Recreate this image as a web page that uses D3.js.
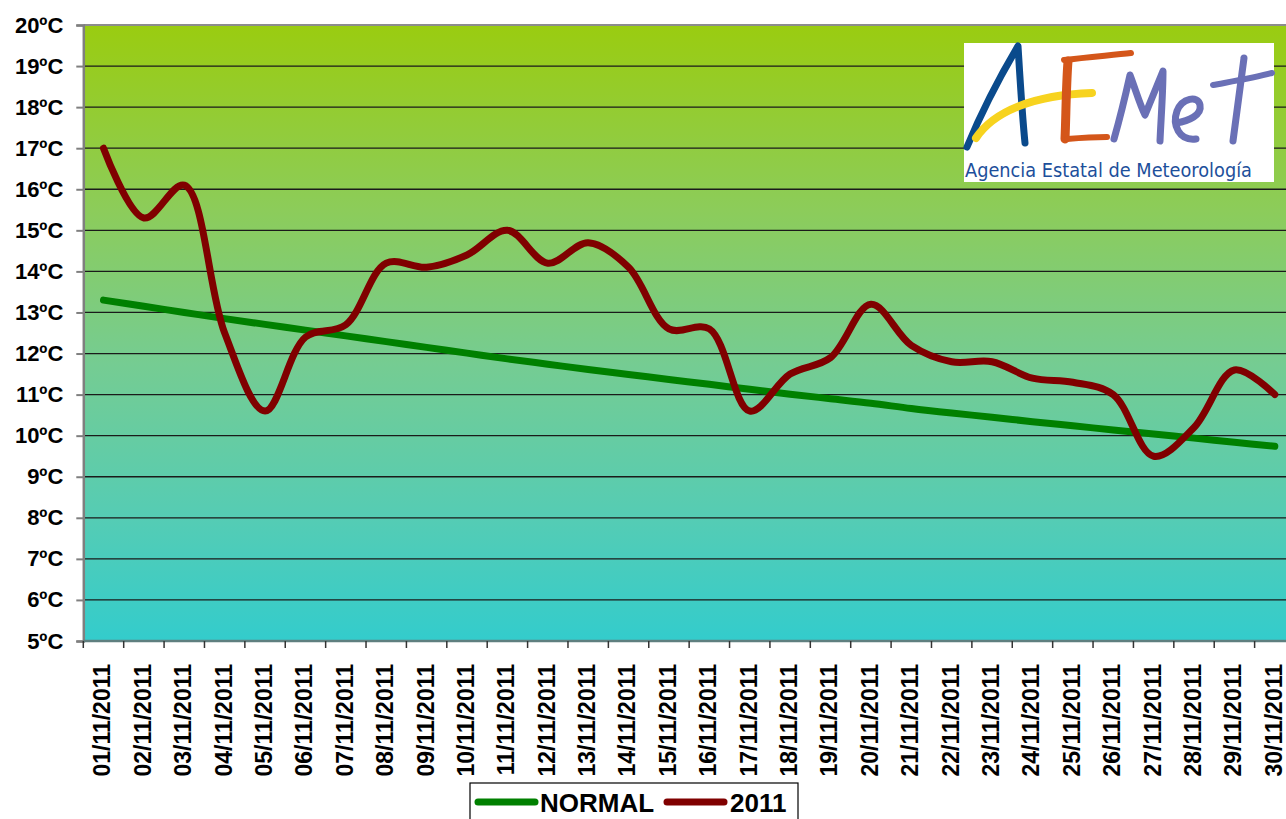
<!DOCTYPE html>
<html>
<head>
<meta charset="utf-8">
<script src="https://cdn.jsdelivr.net/npm/d3@7"></script>
<style>
  html, body { margin: 0; padding: 0; background: #ffffff; overflow: hidden; }
  #chart { width: 1286px; height: 819px; }
</style>
</head>
<body>
<div id="chart"></div>
<script>
// Days of November 2011
const dates = ["01/11/2011","02/11/2011","03/11/2011","04/11/2011","05/11/2011","06/11/2011",
  "07/11/2011","08/11/2011","09/11/2011","10/11/2011","11/11/2011","12/11/2011","13/11/2011",
  "14/11/2011","15/11/2011","16/11/2011","17/11/2011","18/11/2011","19/11/2011","20/11/2011",
  "21/11/2011","22/11/2011","23/11/2011","24/11/2011","25/11/2011","26/11/2011","27/11/2011",
  "28/11/2011","29/11/2011","30/11/2011"];

// Climatological normal temperature
const normalValues = [13.3, 13.15, 13.0, 12.85, 12.71, 12.57, 12.43, 12.29, 12.15, 12.01,
  11.87, 11.74, 11.61, 11.49, 11.37, 11.25, 11.13, 11.01, 10.9, 10.79,
  10.66, 10.55, 10.45, 10.34, 10.24, 10.14, 10.04, 9.94, 9.84, 9.74];

// Observed mean temperature, 2011
const values2011 = [17.0, 15.3, 16.1, 12.5, 10.6, 12.4, 12.7, 14.2, 14.1, 14.4,
  15.0, 14.2, 14.7, 14.1, 12.6, 12.6, 10.6, 11.5, 11.9, 13.2,
  12.2, 11.8, 11.8, 11.4, 11.3, 11.0, 9.5, 10.2, 11.6, 11.0];

// Y axis ticks
const yTicks = [5, 6, 7, 8, 9, 10, 11, 12, 13, 14, 15, 16, 17, 18, 19, 20];

const seriesNames = ["NORMAL", "2011"];
const seriesColors = ["#008000", "#800000"];

const width = 1286;
const height = 819;
const plotLeft = 83.3, plotTop = 25, plotBottom = 641;
const step = 40.39;

const svg = d3.select("#chart")
  .append("svg")
  .attr("width", width)
  .attr("height", height)
  .style("font-family", "'Liberation Sans', Arial, sans-serif");

// Background gradient for the plot area
const defs = svg.append("defs");
const grad = defs.append("linearGradient")
  .attr("id", "bg")
  .attr("x1", 0).attr("y1", 0).attr("x2", 0).attr("y2", 1);
[["0%", "#9acc10"], ["30%", "#8ccc5a"], ["55%", "#75cc92"], ["80%", "#55ccb4"], ["100%", "#33cccc"]]
  .forEach(([o, c]) => grad.append("stop").attr("offset", o).attr("stop-color", c));

// Scales
const x = d3.scaleBand()
  .domain(dates)
  .range([plotLeft, plotLeft + step * dates.length])
  .padding(0);

const y = d3.scaleLinear()
  .domain([5, 20])
  .range([plotBottom, plotTop]);

svg.append("rect")
  .attr("x", plotLeft)
  .attr("y", plotTop)
  .attr("width", step * dates.length)
  .attr("height", plotBottom - plotTop)
  .attr("fill", "url(#bg)");

// Grid lines
svg.append("g")
  .selectAll("line")
  .data(yTicks.filter(d => d > 5 && d < 20))
  .join("line")
  .attr("x1", plotLeft)
  .attr("x2", plotLeft + step * dates.length)
  .attr("y1", d => y(d))
  .attr("y2", d => y(d))
  .attr("stroke", "#1a1a1a")
  .attr("stroke-width", 1.3);

// top border
svg.append("line")
  .attr("x1", plotLeft).attr("x2", plotLeft + step * dates.length)
  .attr("y1", plotTop).attr("y2", plotTop)
  .attr("stroke", "#8c8c8c").attr("stroke-width", 2);

// Y axis
const yAxis = svg.append("g")
  .attr("transform", `translate(${plotLeft},0)`)
  .call(d3.axisLeft(y)
    .tickValues(yTicks)
    .tickSize(7)
    .tickPadding(13)
    .tickFormat(d => d + "ºC"));
yAxis.select(".domain").attr("stroke", "#7f7f7f").attr("stroke-width", 2.5);
yAxis.selectAll(".tick line").attr("stroke", "#7f7f7f").attr("stroke-width", 2);
yAxis.selectAll(".tick text")
  .attr("fill", "#000")
  .style("font-size", "22px")
  .style("font-weight", "bold");

// X axis (labels at band centres, ticks at band edges)
const xAxis = svg.append("g")
  .attr("transform", `translate(0,${plotBottom})`);
xAxis.append("line")
  .attr("x1", plotLeft).attr("x2", plotLeft + step * dates.length)
  .attr("stroke", "#5f7f7f").attr("stroke-width", 2.5);
xAxis.selectAll("line.tk")
  .data(dates)
  .join("line")
  .attr("class", "tk")
  .attr("x1", d => x(d)).attr("x2", d => x(d))
  .attr("y1", 0).attr("y2", 7)
  .attr("stroke", "#333").attr("stroke-width", 1.5);
xAxis.selectAll("text")
  .data(dates)
  .join("text")
  .attr("transform", d => `translate(${x(d) + x.bandwidth() / 2},23) rotate(-90)`)
  .attr("text-anchor", "end")
  .attr("dy", "0.3em")
  .style("font-size", "23px")
  .style("font-weight", "bold")
  .text(d => d);

// Lines
const line = d3.line()
  .x((d, i) => x(dates[i]) + x.bandwidth() / 2)
  .y(d => y(d))
  .curve(d3.curveCatmullRom.alpha(0.5));

svg.append("path")
  .datum(normalValues)
  .attr("d", line)
  .attr("fill", "none")
  .attr("stroke", seriesColors[0])
  .attr("stroke-width", 7)
  .attr("stroke-linecap", "round")
  .attr("stroke-linejoin", "round");

svg.append("path")
  .datum(values2011)
  .attr("d", line)
  .attr("fill", "none")
  .attr("stroke", seriesColors[1])
  .attr("stroke-width", 7)
  .attr("stroke-linecap", "round")
  .attr("stroke-linejoin", "round");

// AEMET logo
const logo = svg.append("g").attr("transform", "translate(964,43)");
logo.append("rect")
  .attr("width", 310).attr("height", 139)
  .attr("fill", "#ffffff");
const stroke = (d, c, w) => logo.append("path")
  .attr("d", d).attr("fill", "none").attr("stroke", c)
  .attr("stroke-width", w).attr("stroke-linecap", "round").attr("stroke-linejoin", "round");
// A
stroke("M3,104 C15,75 35,35 54,3 C56,35 58,70 61,100", "#0a4a8c", 7);
// yellow swoosh
stroke("M12,95 C30,68 70,52 128,50", "#f7d31f", 8);
// E
stroke("M104,18 C102,45 102,75 101,96", "#d4561a", 9);
stroke("M100,17 C125,14 150,12 167,10", "#d4561a", 6);
stroke("M103,96 C115,95 130,94 143,94", "#d4561a", 6);
// M
stroke("M150,96 C156,75 162,50 166,32 C172,48 176,62 181,72 C188,55 194,40 199,28 C199,50 197,75 196,98", "#6a70b6", 7);
// e
stroke("M212,80 C225,78 238,72 236,62 C234,52 218,55 213,68 C208,82 215,98 232,96", "#6a70b6", 7);
// t
stroke("M280,15 C276,45 272,75 269,98", "#6a70b6", 7);
stroke("M249,42 C265,39 290,35 308,30", "#6a70b6", 6);
logo.append("text")
  .attr("x", 1).attr("y", 134)
  .attr("textLength", 287)
  .attr("lengthAdjust", "spacingAndGlyphs")
  .attr("fill", "#1d4f9b")
  .style("font-family", "'DejaVu Sans', Arial, sans-serif")
  .style("font-size", "19px")
  .text("Agencia Estatal de Meteorología");

// Legend
const legend = svg.append("g").attr("transform", "translate(470,783)");
legend.append("rect")
  .attr("width", 328).attr("height", 42)
  .attr("fill", "#ffffff").attr("stroke", "#000").attr("stroke-width", 1.2);
const legendX = [8, 197];
const legendTextX = [70, 260];
seriesNames.forEach((name, i) => {
  legend.append("line")
    .attr("x1", legendX[i]).attr("x2", legendX[i] + 57)
    .attr("y1", 19).attr("y2", 19)
    .attr("stroke", seriesColors[i]).attr("stroke-width", 7)
    .attr("stroke-linecap", "round");
  legend.append("text")
    .attr("x", legendTextX[i]).attr("y", 29)
    .style("font-size", "26px").style("font-weight", "bold")
    .text(name);
});
</script>
</body>
</html>
